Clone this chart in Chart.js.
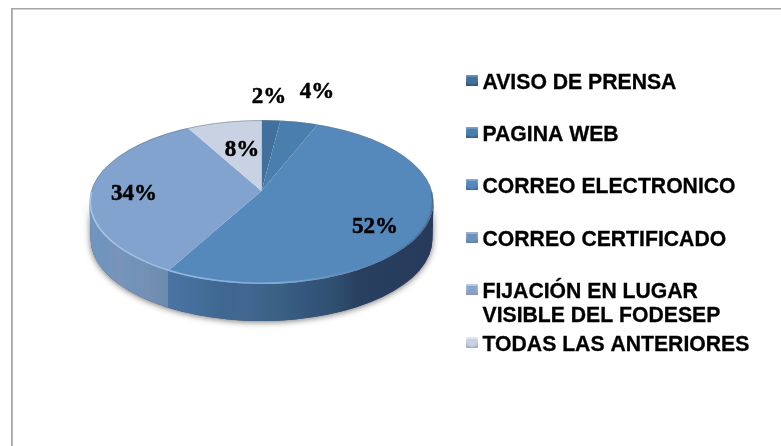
<!DOCTYPE html>
<html lang="es">
<head>
<meta charset="utf-8">
<title>Medios de difusión</title>
<style>
html,body{margin:0;padding:0;background:#fff;overflow:hidden}
#wrap{position:absolute;left:0;top:0;width:781px;height:446px}
canvas{display:block}
</style>
<script src="https://cdn.jsdelivr.net/npm/chart.js@4/dist/chart.umd.js"></script>
</head>
<body>
<div id="wrap"><canvas id="c" width="781" height="446"></canvas></div>
<script>
// ---- data ----
const categories = ["AVISO DE PRENSA","PAGINA WEB","CORREO ELECTRONICO","CORREO CERTIFICADO",["FIJACIÓN EN LUGAR","VISIBLE DEL FODESEP"],"TODAS LAS ANTERIORES"];
const percentages = [2,4,52,0,34,8];

// ---- styles ----
const sliceColors = ["#41709c","#4a7eac","#5589bc","#6a92c0","#81a3cd","#c8d2e3"];
const legendDark  = ["#2f5377","#355f8a","#3d6c9c","#63809f","#8795ad","#a5aec0"];
const legendLight = ["#6e96bd","#77a3cd","#80afdb","#a0b6d0","#c2cddd","#e8ebf1"];
const wallStops = {
  2:[[0,"#4a73a3"],[.1,"#456f9c"],[.2,"#3f678f"],[.3,"#426690"],[.42,"#3a6082"],[.52,"#34567c"],[.62,"#2f5070"],[.72,"#293f60"],[1,"#263b5c"]],
  4:[[0,"#7097c0"],[.2,"#7094bd"],[.4,"#7a93b9"],[.55,"#7193b8"],[.75,"#7490b4"],[1,"#6a8bae"]]
};
const legendRows = [82,134,186,239,291,344];
const labelNudges = [[0,-37.7],[25.7,-44.4],[4.9,12],null,[-7.5,3],[10.3,13.6]];

// ---- geometry of the tilted disc ----
const tilt = 0.47, rimX = 172, rimY = 82, rimDrop = 11, depth = 37, labelR = 120;

function rimPointX(cx, rot){           // where a slice edge meets the rim of the tilted disc
  const a = rot + Math.PI/2, sx = Math.sin(a), sy = -tilt*Math.cos(a);
  const A = sx*sx/(rimX*rimX) + sy*sy/(rimY*rimY);
  const B = 2*sy*(-rimDrop)/(rimY*rimY);
  const C = rimDrop*rimDrop/(rimY*rimY) - 1;
  const t = (-B + Math.sqrt(B*B - 4*A*C))/(2*A);
  return cx + t*sx;
}
function wallPath(ctx, cx, cy){
  ctx.beginPath();
  ctx.ellipse(cx, cy, rimX, rimY, 0, 0, Math.PI);
  ctx.lineTo(cx-rimX+1, cy+depth);
  ctx.ellipse(cx, cy+depth, rimX-1, rimY, 0, Math.PI, 0, true);
  ctx.closePath();
}
const disc3d = {
  id:"disc3d",
  beforeDatasetsDraw(chart){
    const ctx = chart.ctx, meta = chart.getDatasetMeta(0);
    const cx = meta.data[0].x, cy = meta.data[0].y + rimDrop;
    // soft shadow under the wall
    ctx.save();
    ctx.shadowColor = "rgba(40,40,40,.65)"; ctx.shadowBlur = 6; ctx.shadowOffsetY = 1;
    ctx.fillStyle = "#556"; wallPath(ctx,cx,cy); ctx.fill();
    ctx.restore();
    // one wall piece for every slice that reaches the front
    meta.data.forEach((el,i)=>{
      if(!wallStops[i]) return;
      const s = el.startAngle, e = el.endAngle, west = Math.PI;
      const hasEast = s < 0 && e > 0, hasWest = s < west && e > west;
      const lo = hasWest ? cx-rimX-1 : (hasEast ? rimPointX(cx,e) : Math.min(rimPointX(cx,s),rimPointX(cx,e)));
      const hi = hasEast ? cx+rimX+1 : (hasWest ? rimPointX(cx,s) : Math.max(rimPointX(cx,s),rimPointX(cx,e)));
      const g = ctx.createLinearGradient(lo,0,hi,0);
      wallStops[i].forEach(p=>g.addColorStop(p[0],p[1]));
      ctx.save();
      ctx.beginPath(); ctx.rect(lo,0,hi-lo,chart.height); ctx.clip();
      ctx.fillStyle = g; wallPath(ctx,cx,cy); ctx.fill();
      ctx.restore();
    });
    // tilt the library's arcs, and trim them to the rim of the disc
    ctx.save();
    ctx.beginPath(); ctx.ellipse(cx,cy,rimX,rimY,0,0,Math.PI*2); ctx.clip();
    ctx.translate(cx,meta.data[0].y); ctx.scale(1,tilt); ctx.translate(-cx,-meta.data[0].y);
  },
  afterDatasetsDraw(chart){
    const ctx = chart.ctx, meta = chart.getDatasetMeta(0);
    ctx.restore();
    const ax = meta.data[0].x, ay = meta.data[0].y, cy = ay + rimDrop;
    // rim: thin bright bevel below, soft dark line above and at the right
    const rim = ctx.createLinearGradient(ax-rimX,0,ax+rimX,0);
    rim.addColorStop(0,"rgba(170,198,232,.95)");
    rim.addColorStop(.55,"rgba(130,175,220,.9)");
    rim.addColorStop(.85,"rgba(90,130,170,.55)");
    rim.addColorStop(1,"rgba(70,90,115,.6)");
    ctx.save();
    ctx.strokeStyle = rim; ctx.lineWidth = 1.6;
    ctx.beginPath(); ctx.ellipse(ax,cy,rimX-.8,rimY-.8,0,-.12,Math.PI+.12); ctx.stroke();
    ctx.strokeStyle = "rgba(110,125,145,.5)"; ctx.lineWidth = 1;
    ctx.beginPath(); ctx.ellipse(ax,cy,rimX-.5,rimY-.5,0,Math.PI+.12,-.12); ctx.stroke();
    ctx.restore();
    // percentage labels
    ctx.save();
    ctx.font = "bold 23px 'Liberation Serif'";
    ctx.fillStyle = "#000"; ctx.strokeStyle = "#000"; ctx.lineWidth = .5;
    ctx.textAlign = "center"; ctx.textBaseline = "middle";
    meta.data.forEach((el,i)=>{
      const n = labelNudges[i]; if(!n) return;
      const mid = (el.startAngle+el.endAngle)/2;
      const t = percentages[i]+"%", x = ax+labelR*Math.cos(mid)+n[0], y = ay+tilt*labelR*Math.sin(mid)+n[1];
      ctx.fillText(t,x,y); ctx.strokeText(t,x,y);
    });
    ctx.restore();
  },
  afterDraw(chart){
    const ctx = chart.ctx;
    // frame of the picture
    ctx.save();
    ctx.fillStyle = "#a6a6a6";
    ctx.fillRect(11,8,chart.width-11,1.5);
    ctx.fillRect(11,8,1.8,chart.height-8);
    // legend
    ctx.font = "bold 21.2px 'Liberation Sans'";
    ctx.textAlign = "left"; ctx.textBaseline = "middle";
    categories.forEach((label,i)=>{
      const y = legendRows[i], x = 466, h = 11, w = 12, top = y-7;
      const g = ctx.createLinearGradient(0,top,0,top+h);
      g.addColorStop(0,legendLight[i]); g.addColorStop(1,legendDark[i]);
      ctx.fillStyle = g; ctx.fillRect(x,top,w,h);
      ctx.fillStyle = sliceColors[i];
      ctx.beginPath(); ctx.moveTo(x+1,top+2); ctx.lineTo(x+w-1,top+2); ctx.lineTo(x+w-2,top+h-3); ctx.lineTo(x+w/2,top+h-1); ctx.lineTo(x+2,top+h-3); ctx.closePath(); ctx.fill();
      ctx.fillStyle = "#000"; ctx.strokeStyle = "#000"; ctx.lineWidth = .3;
      const lines = Array.isArray(label) ? label : [label];
      lines.forEach((t,k)=>{ ctx.fillText(t, 482.5, y+1+k*24); ctx.strokeText(t, 482.5, y+1+k*24); });
    });
    ctx.restore();
  }
};

new Chart(document.getElementById("c"),{
  type:"pie",
  data:{labels:categories,datasets:[{data:percentages,backgroundColor:sliceColors,borderWidth:0,clip:false}]},
  options:{
    responsive:false,animation:false,
    radius:205,
    layout:{padding:{left:0,top:0,right:258,bottom:64}},
    plugins:{legend:{display:false},tooltip:{enabled:false}}
  },
  plugins:[disc3d]
});
</script>
</body>
</html>
